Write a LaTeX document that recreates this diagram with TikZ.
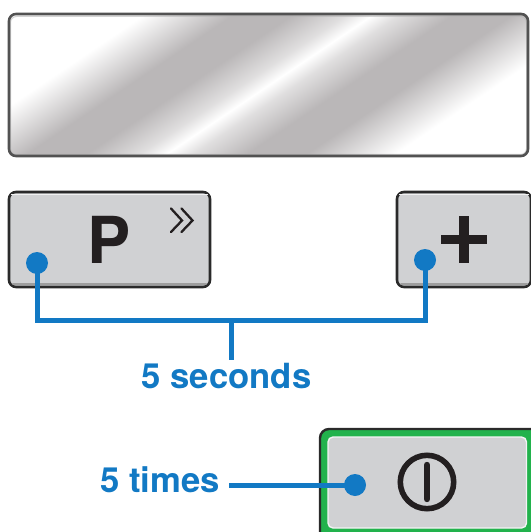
\documentclass[tikz,border=0pt]{standalone}
\usepackage{fontspec}
\setmainfont{TeX Gyre Heros}
\definecolor{keygrey}{HTML}{D0D1D3}
\definecolor{keyedge}{HTML}{2A2A2A}
\definecolor{callout}{HTML}{1279C4}
\definecolor{ink}{HTML}{231F20}
\definecolor{ledgreen}{HTML}{22B24C}
\definecolor{dark}{HTML}{BAB7B8}
\pgfdeclarehorizontalshading{metal}{700bp}{
  color(0bp)=(white);
  color(172bp)=(white);
  color(222bp)=(dark);
  color(255bp)=(dark);
  color(285bp)=(dark!45!white);
  color(300bp)=(white);
  color(315bp)=(dark!45!white);
  color(345bp)=(dark);
  color(378bp)=(dark);
  color(428bp)=(white);
  color(600bp)=(white)}
\tikzset{
  x=1bp,y=-1bp,
  keybody/.style={draw=keyedge,line width=2.6bp,fill=keygrey,rounded corners=7bp},
  keylight/.style={draw=white!70!keygrey,line width=1.2bp,rounded corners=5bp},
  keyshade/.style={draw=black!38,line width=2bp,line cap=round},
  callline/.style={draw=callout,line width=5bp},
  calldot/.style={circle,fill=callout,inner sep=0pt,minimum size=22bp},
  calltext/.style={text=callout,font=\fontsize{34.8}{36}\selectfont\bfseries,inner sep=0pt},
  keytext/.style={text=ink,font=\fontsize{65}{66}\selectfont\bfseries,inner sep=0pt,anchor=base},
  symbolline/.style={draw=ink,line cap=butt}
}
\begin{document}
\begin{tikzpicture}
\useasboundingbox (0,0) rectangle (531,532);
\clip (0,0) rectangle (531,532);
% display
\begin{scope}
  \clip[rounded corners=7bp] (8,13) rectangle (529,157);
  \node[inner sep=0pt,rotate=-56] (metalfill) at (268.5,85) {\pgfuseshading{metal}};
\end{scope}
\draw[draw=black!30,line width=1bp,rounded corners=6bp,opacity=.55] (10.5,16.5) rectangle (526.5,154.5);
\draw[draw=black!68,line width=2.6bp,rounded corners=7bp] (9,14) rectangle (528,156);
% P key
\draw[keybody] (9,192) rectangle (210,287);
\draw[keylight] (11,194.5) -- (208,194.5);
\draw[keyshade] (13,283.5) -- (206,283.5);
\node[keytext] (ptext) at (109,263) {P};
\draw[draw=ink,line width=2.3bp,line cap=round,line join=miter] (171,208.5) -- (182,220.5) -- (171,232);
\draw[draw=ink,line width=2.3bp,line cap=round,line join=miter] (181.5,208.5) -- (192.5,220.5) -- (181.5,232);
% plus key
\draw[keybody] (397,192) rectangle (531,287);
\draw[keylight] (399,194.5) -- (529,194.5);
\draw[keyshade] (401,283.5) -- (527,283.5);
\fill[ink] (459,216) rectangle (468.5,263);
\fill[ink] (440.5,234.5) rectangle (486.5,244);
% power key
\draw[draw=keyedge,line width=2.4bp,fill=ledgreen,rounded corners=9bp] (320,429) rectangle (560,560);
\draw[draw=white!75!keygrey,line width=1.4bp,fill=keygrey,rounded corners=5bp] (328,437) rectangle (526.5,528);
\draw[symbolline,line width=5.6bp] (427,482) circle (26.7);
\draw[draw=ink,line width=6.4bp,line cap=round] (427,465) -- (427,499);
% callouts
\node[calldot] (dotp) at (37,263) {};
\node[calldot] (dotplus) at (425,260) {};
\node[calldot] (dotpower) at (355,485) {};
\coordinate (junction) at (231,320);
\node[calltext] (seconds) at (226.5,376) {5 seconds};
\node[calltext] (times) at (160,480) {5 times};
\coordinate (timesend) at (229,485);
\draw[callline] (dotp.center) |- (junction) -| (dotplus.center);
\draw[callline] (junction) -- (231,360);
\draw[callline] (timesend) -- (dotpower.center);
\end{tikzpicture}
\end{document}
